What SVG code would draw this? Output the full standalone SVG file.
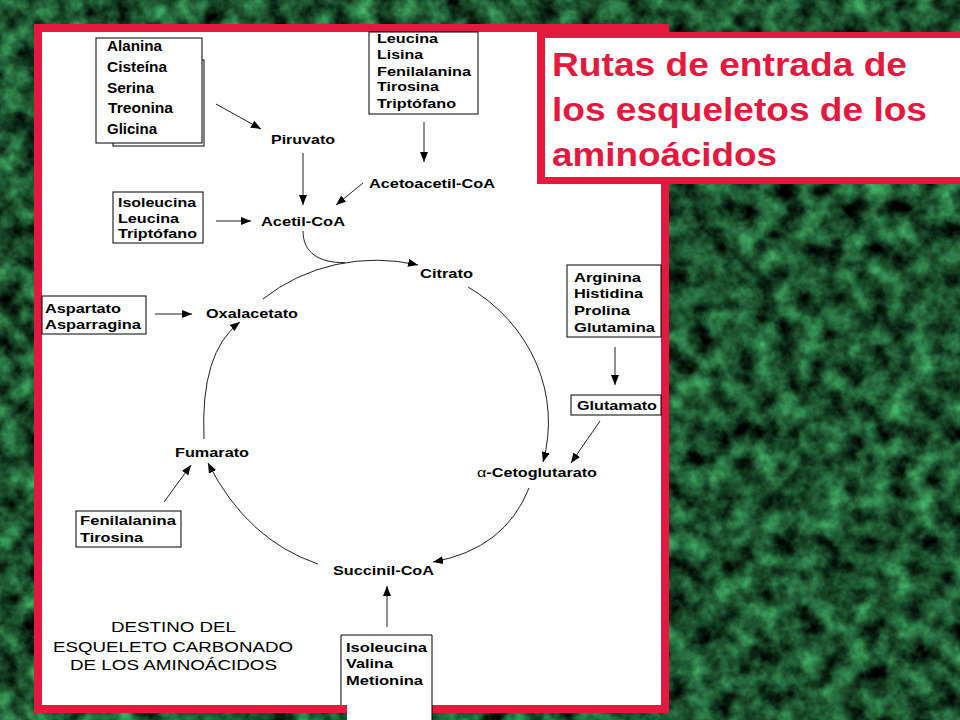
<svg xmlns="http://www.w3.org/2000/svg" width="960" height="720" viewBox="0 0 960 720">
<defs>
  <filter id="marble" x="0" y="0" width="100%" height="100%" color-interpolation-filters="sRGB">
    <feTurbulence type="fractalNoise" baseFrequency="0.045" numOctaves="4" seed="7"/>
    <feColorMatrix type="matrix" values="0.4 0 0 0 -0.09  1.0 0 0 0 -0.18  0.6 0 0 0 -0.12  0 0 0 0 1"/>
  </filter>
  <marker id="ah" viewBox="0 0 10 8" refX="10" refY="4" markerWidth="10" markerHeight="8" markerUnits="userSpaceOnUse" orient="auto">
    <path d="M0,0 L10,4 L0,8 z" fill="#000"/>
  </marker>
  <style>
    .lbl{font-family:"Liberation Sans",Arial,sans-serif;font-weight:bold;font-size:13px;fill:#000}
    .lbl14{font-family:"Liberation Sans",Arial,sans-serif;font-weight:bold;font-size:14px;fill:#000}
    .box{fill:#fff;stroke:#000;stroke-width:1}
    .ln{stroke:#222;stroke-width:1;fill:none;marker-end:url(#ah)}
    .plain{stroke:#222;stroke-width:1;fill:none}
    .title{font-family:"Liberation Sans",Arial,sans-serif;font-weight:bold;font-size:33px;fill:#E31940}
    .note{font-family:"Liberation Sans",Arial,sans-serif;font-size:14px;fill:#000}
    .red{fill:#E31940}
  </style>
</defs>

<g id="background">
  <rect width="960" height="720" fill="#1d5a30"/>
  <rect width="960" height="720" filter="url(#marble)"/>
</g>

<g id="panel">
  <rect class="red" x="34" y="24" width="635" height="689"/>
  <rect x="42" y="32" width="619" height="673" fill="#fff"/>
</g>

<g id="title-box">
  <rect class="red" x="537" y="32" width="423" height="152"/>
  <rect x="545" y="38" width="415" height="139" fill="#fff"/>
  <text class="title" x="552" y="76" textLength="355" lengthAdjust="spacingAndGlyphs">Rutas de entrada de</text>
  <text class="title" x="552" y="121" textLength="375" lengthAdjust="spacingAndGlyphs">los esqueletos de los</text>
  <text class="title" x="552" y="166" textLength="225" lengthAdjust="spacingAndGlyphs">aminoácidos</text>
</g>

<g id="connectors">
  <line class="ln" x1="216" y1="104" x2="261" y2="129"/>
  <line class="ln" x1="303" y1="153" x2="303" y2="205"/>
  <line class="ln" x1="363" y1="183" x2="336" y2="205"/>
  <line class="ln" x1="216" y1="221" x2="251" y2="221"/>
  <line class="ln" x1="424" y1="122" x2="424" y2="162"/>
  <line class="ln" x1="155" y1="314" x2="192" y2="314"/>
  <line class="ln" x1="615" y1="347" x2="615" y2="385"/>
  <line class="ln" x1="600" y1="421" x2="571" y2="463"/>
  <line class="ln" x1="164" y1="502" x2="191" y2="465"/>
  <line class="ln" x1="387" y1="627" x2="387" y2="586"/>
  <path class="plain" d="M303,231 C303,252 318,263 345,262.6"/>
  <path class="ln" d="M263,299 A173,160 0 0,1 418,265"/>
  <path class="ln" d="M468,287 A173,160 0 0,1 543,462"/>
  <path class="ln" d="M529,488 Q505,549 433,562"/>
  <path class="ln" d="M318,564 Q247,540 208,463"/>
  <path class="ln" d="M204,439 Q200,352 240,322"/>
</g>

<g id="box-alanina">
  <rect class="box" x="113" y="60" width="91" height="86"/>
  <rect class="box" x="96" y="38" width="106" height="105"/>
  <text class="lbl14" x="107" y="51" textLength="55" lengthAdjust="spacingAndGlyphs">Alanina</text>
  <text class="lbl14" x="107" y="72" textLength="60" lengthAdjust="spacingAndGlyphs">Cisteína</text>
  <text class="lbl14" x="107" y="93" textLength="47" lengthAdjust="spacingAndGlyphs">Serina</text>
  <text class="lbl14" x="108" y="113" textLength="65" lengthAdjust="spacingAndGlyphs">Treonina</text>
  <text class="lbl14" x="107" y="134" textLength="50" lengthAdjust="spacingAndGlyphs">Glicina</text>
</g>

<g id="piruvato">
  <text class="lbl" x="271" y="144" textLength="64" lengthAdjust="spacingAndGlyphs">Piruvato</text>
</g>

<g id="box-leucina-lisina">
  <rect class="box" x="369" y="32" width="109" height="82"/>
  <text class="lbl" x="377" y="43" textLength="61" lengthAdjust="spacingAndGlyphs">Leucina</text>
  <text class="lbl" x="377" y="59" textLength="46" lengthAdjust="spacingAndGlyphs">Lisina</text>
  <text class="lbl" x="377" y="76" textLength="94" lengthAdjust="spacingAndGlyphs">Fenilalanina</text>
  <text class="lbl" x="377" y="91" textLength="62" lengthAdjust="spacingAndGlyphs">Tirosina</text>
  <text class="lbl" x="377" y="108" textLength="79" lengthAdjust="spacingAndGlyphs">Triptófano</text>
</g>

<g id="acetoacetil-coa">
  <text class="lbl" x="369" y="188" textLength="126" lengthAdjust="spacingAndGlyphs">Acetoacetil-CoA</text>
</g>

<g id="box-isoleucina-leucina">
  <rect class="box" x="113" y="192" width="90" height="51"/>
  <text class="lbl" x="118" y="207" textLength="78" lengthAdjust="spacingAndGlyphs">Isoleucina</text>
  <text class="lbl" x="118" y="223" textLength="61" lengthAdjust="spacingAndGlyphs">Leucina</text>
  <text class="lbl" x="118" y="238" textLength="79" lengthAdjust="spacingAndGlyphs">Triptófano</text>
</g>

<g id="acetil-coa">
  <text class="lbl" x="261" y="226" textLength="84" lengthAdjust="spacingAndGlyphs">Acetil-CoA</text>
</g>

<g id="citrato">
  <text class="lbl" x="420" y="278" textLength="53" lengthAdjust="spacingAndGlyphs">Citrato</text>
</g>

<g id="box-arginina">
  <rect class="box" x="567" y="265" width="94" height="72"/>
  <text class="lbl" x="574" y="282" textLength="67" lengthAdjust="spacingAndGlyphs">Arginina</text>
  <text class="lbl" x="574" y="298" textLength="69" lengthAdjust="spacingAndGlyphs">Histidina</text>
  <text class="lbl" x="574" y="315" textLength="56" lengthAdjust="spacingAndGlyphs">Prolina</text>
  <text class="lbl" x="574" y="332" textLength="81" lengthAdjust="spacingAndGlyphs">Glutamina</text>
</g>

<g id="box-glutamato">
  <rect class="box" x="571" y="395" width="90" height="20"/>
  <text class="lbl" x="577" y="410" textLength="80" lengthAdjust="spacingAndGlyphs">Glutamato</text>
</g>

<g id="cetoglutarato">
  <text class="lbl" x="477" y="477" textLength="120" lengthAdjust="spacingAndGlyphs"><tspan font-weight="normal">α</tspan>-Cetoglutarato</text>
</g>

<g id="box-aspartato">
  <rect class="box" x="42" y="296" width="104" height="38"/>
  <text class="lbl" x="45" y="313" textLength="76" lengthAdjust="spacingAndGlyphs">Aspartato</text>
  <text class="lbl" x="45" y="329" textLength="96" lengthAdjust="spacingAndGlyphs">Asparragina</text>
</g>

<g id="oxalacetato">
  <text class="lbl" x="206" y="318" textLength="92" lengthAdjust="spacingAndGlyphs">Oxalacetato</text>
</g>

<g id="fumarato">
  <text class="lbl" x="175" y="457" textLength="74" lengthAdjust="spacingAndGlyphs">Fumarato</text>
</g>

<g id="box-fenilalanina">
  <rect class="box" x="76" y="511" width="105" height="36"/>
  <text class="lbl" x="80" y="525" textLength="96" lengthAdjust="spacingAndGlyphs">Fenilalanina</text>
  <text class="lbl" x="80" y="542" textLength="63" lengthAdjust="spacingAndGlyphs">Tirosina</text>
</g>

<g id="succinil-coa">
  <text class="lbl" x="333" y="575" textLength="101" lengthAdjust="spacingAndGlyphs">Succinil-CoA</text>
</g>

<g id="box-isoleucina-valina">
  <rect x="341" y="635" width="91" height="70" fill="#fff"/>
  <rect x="347" y="700" width="85" height="20" fill="#fff"/>
  <path d="M341,705 V635 H432 V720" fill="none" stroke="#000" stroke-width="1"/>
  <text class="lbl" x="346" y="652" textLength="81" lengthAdjust="spacingAndGlyphs">Isoleucina</text>
  <text class="lbl" x="346" y="668" textLength="47" lengthAdjust="spacingAndGlyphs">Valina</text>
  <text class="lbl" x="346" y="685" textLength="77" lengthAdjust="spacingAndGlyphs">Metionina</text>
</g>

<g id="caption">
  <text class="note" x="111" y="632" textLength="125" lengthAdjust="spacingAndGlyphs">DESTINO DEL</text>
  <text class="note" x="53" y="652" textLength="240" lengthAdjust="spacingAndGlyphs">ESQUELETO CARBONADO</text>
  <text class="note" x="70" y="670" textLength="207" lengthAdjust="spacingAndGlyphs">DE LOS AMINOÁCIDOS</text>
</g>
</svg>
